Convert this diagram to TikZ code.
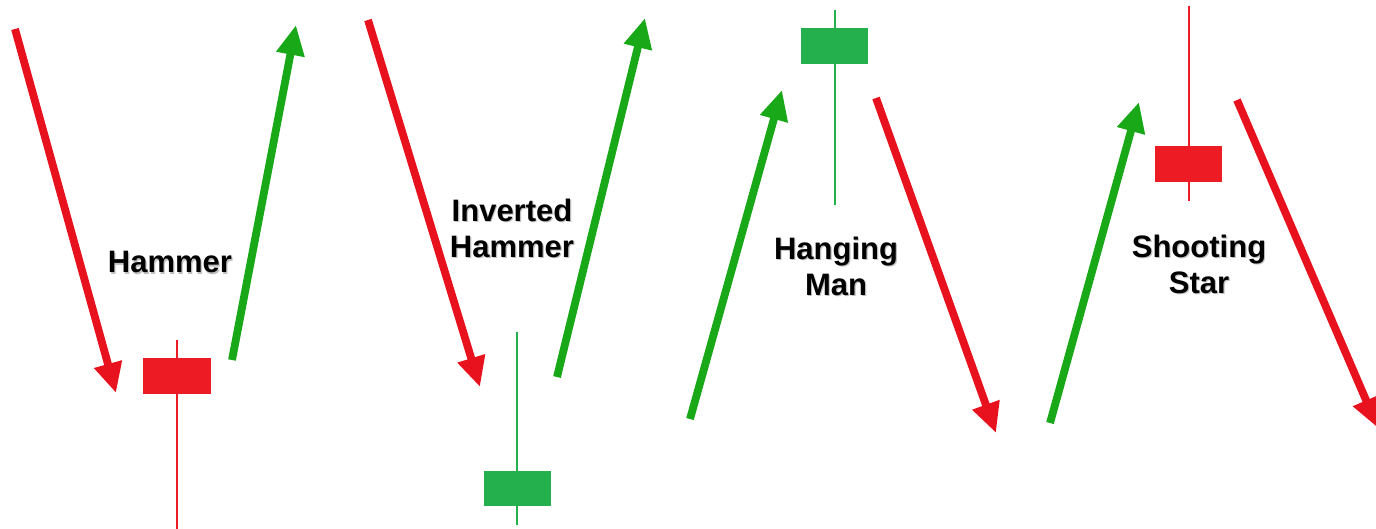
\documentclass[tikz,border=0pt]{standalone}
\usepackage{fontspec}
\setmainfont{Liberation Sans}
\usetikzlibrary{arrows.meta}
\definecolor{arred}{RGB}{232,18,30}
\definecolor{argreen}{RGB}{24,168,24}
\definecolor{cred}{RGB}{237,28,36}
\definecolor{cgreen}{RGB}{36,176,76}
\tikzset{
  trend/.style={line width=3.9pt},
  down/.style={trend, draw=arred, arrows={-{Triangle[length=15pt,width=13.5pt,fill=arred]}}},
  up/.style={trend, draw=argreen, arrows={-{Triangle[length=15pt,width=13.5pt,fill=argreen]}}},
  wick/.style={line width=1.1pt},
  lbl/.style={font=\fontsize{15.5}{18}\selectfont\bfseries, align=center, text=black},
  shadowlbl/.style={lbl, text=black!25}
}
\newcommand{\shlabel}[3]{%
  \node[shadowlbl] at ([shift={(1.2,1.6)}]#2) {#3};
  \node[lbl] (#1) at (#2) {#3};}
\begin{document}
\begin{tikzpicture}[x=0.5pt,y=-0.5pt]
\useasboundingbox (0,0) rectangle (1376,529);
% Hammer
\coordinate (a1s) at (15,29);
\coordinate (a1e) at (116,393);
\draw[down] (a1s) -- (a1e);
\coordinate (h1t) at (177,340);
\coordinate (h1b) at (177,529);
\draw[wick, cred] (h1t) -- (h1b);
\fill[cred] (143,358) rectangle (211,394);
\coordinate (a2s) at (232,360);
\coordinate (a2e) at (296,25);
\draw[up] (a2s) -- (a2e);
\shlabel{l1}{170,262}{Hammer}
% Inverted hammer
\coordinate (a3s) at (368,20);
\coordinate (a3e) at (480,387);
\draw[down] (a3s) -- (a3e);
\coordinate (h2t) at (517,332);
\coordinate (h2b) at (517,525);
\draw[wick, cgreen] (h2t) -- (h2b);
\fill[cgreen] (484,471) rectangle (551,506);
\coordinate (a4s) at (557,377);
\coordinate (a4e) at (645,18);
\draw[up] (a4s) -- (a4e);
\shlabel{l2}{512,228}{Inverted\\Hammer}
% Hanging man
\coordinate (a5s) at (690,419);
\coordinate (a5e) at (782,90);
\draw[up] (a5s) -- (a5e);
\coordinate (h3t) at (835,10);
\coordinate (h3b) at (835,205);
\draw[wick, cgreen] (h3t) -- (h3b);
\fill[cgreen] (801,28) rectangle (868,64);
\coordinate (a6s) at (876,98);
\coordinate (a6e) at (996,433);
\draw[down] (a6s) -- (a6e);
\shlabel{l3}{836,266}{Hanging\\Man}
% Shooting star
\coordinate (a7s) at (1050,423);
\coordinate (a7e) at (1139,102);
\draw[up] (a7s) -- (a7e);
\coordinate (h4t) at (1189,6);
\coordinate (h4b) at (1189,201);
\draw[wick, cred] (h4t) -- (h4b);
\fill[cred] (1155,146) rectangle (1222,182);
\coordinate (a8s) at (1237,100);
\coordinate (a8e) at (1378,428);
\draw[down] (a8s) -- (a8e);
\shlabel{l4}{1199,264}{Shooting\\Star}
\end{tikzpicture}
\end{document}
